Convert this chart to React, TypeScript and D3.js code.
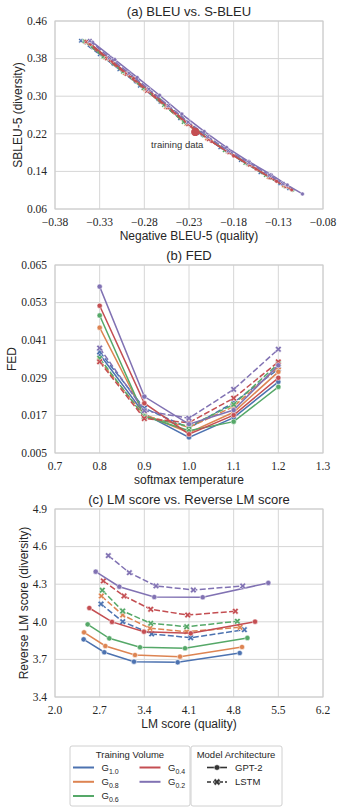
import React from 'react';
import * as d3 from 'd3';

const GROUP_SUBS = ['1.0', '0.8', '0.6', '0.4', '0.2'];
const PALETTE = ['#4c72b0', '#dd8452', '#55a868', '#c44e52', '#8172b3'];
const ARCHS = ['GPT-2', 'LSTM'];

// ---------- (a) BLEU vs S-BLEU ----------
const aXTicks = [-0.38, -0.33, -0.28, -0.23, -0.18, -0.13, -0.08];
const aYTicks = [0.06, 0.14, 0.22, 0.3, 0.38, 0.46];
const aGptX = [
  [-0.340, -0.315, -0.290, -0.265, -0.240, -0.215, -0.190, -0.165, -0.140, -0.118],
  [-0.338, -0.312, -0.287, -0.262, -0.237, -0.212, -0.188, -0.163, -0.138, -0.116],
  [-0.339, -0.314, -0.289, -0.263, -0.238, -0.213, -0.189, -0.164, -0.139, -0.114],
  [-0.340, -0.316, -0.292, -0.268, -0.245, -0.228, -0.205, -0.180, -0.155, -0.132, -0.115],
  [-0.338, -0.313, -0.288, -0.263, -0.238, -0.213, -0.188, -0.163, -0.138, -0.120, -0.103],
];
const aGptY = [
  [0.406, 0.368, 0.331, 0.293, 0.253, 0.217, 0.186, 0.157, 0.128, 0.104],
  [0.405, 0.366, 0.329, 0.291, 0.251, 0.215, 0.184, 0.155, 0.126, 0.103],
  [0.408, 0.370, 0.333, 0.293, 0.254, 0.217, 0.185, 0.155, 0.126, 0.100],
  [0.411, 0.374, 0.338, 0.301, 0.264, 0.237, 0.204, 0.173, 0.145, 0.119, 0.101],
  [0.415, 0.378, 0.340, 0.302, 0.262, 0.225, 0.191, 0.161, 0.133, 0.111, 0.092],
];
const aLstmX = [
  [-0.351, -0.330, -0.308, -0.285, -0.262, -0.240, -0.218, -0.195, -0.172, -0.150, -0.128, -0.118],
  [-0.346, -0.324, -0.302, -0.279, -0.256, -0.233, -0.210, -0.187, -0.164, -0.141, -0.124],
  [-0.347, -0.326, -0.304, -0.281, -0.258, -0.236, -0.213, -0.190, -0.167, -0.144, -0.122],
  [-0.345, -0.322, -0.300, -0.277, -0.254, -0.231, -0.208, -0.185, -0.162, -0.139, -0.121],
  [-0.341, -0.319, -0.297, -0.275, -0.253, -0.231, -0.209, -0.186, -0.163, -0.140, -0.125],
];
const aLstmY = [
  [0.418, 0.389, 0.357, 0.322, 0.288, 0.253, 0.222, 0.191, 0.164, 0.138, 0.114, 0.104],
  [0.415, 0.382, 0.349, 0.314, 0.277, 0.241, 0.210, 0.182, 0.155, 0.128, 0.110],
  [0.417, 0.384, 0.352, 0.317, 0.281, 0.245, 0.216, 0.185, 0.158, 0.132, 0.108],
  [0.416, 0.380, 0.347, 0.311, 0.276, 0.240, 0.208, 0.180, 0.154, 0.127, 0.108],
  [0.418, 0.382, 0.349, 0.315, 0.280, 0.245, 0.214, 0.184, 0.159, 0.132, 0.114],
];
const trainingPoint: [number, number] = [-0.223, 0.224];
const trainingLabel = 'training data';

// ---------- (b) FED ----------
const temps = [0.8, 0.9, 1.0, 1.1, 1.2];
const bXTicks = [0.7, 0.8, 0.9, 1.0, 1.1, 1.2, 1.3];
const bYTicks = [0.005, 0.017, 0.029, 0.041, 0.053, 0.065];
const fedGpt = [
  [0.0365, 0.0175, 0.0100, 0.0163, 0.0277],
  [0.0450, 0.0172, 0.0115, 0.0180, 0.0309],
  [0.0489, 0.0168, 0.0121, 0.0150, 0.0261],
  [0.0520, 0.0209, 0.0110, 0.0171, 0.0290],
  [0.0581, 0.0230, 0.0142, 0.0187, 0.0330],
];
const fedLstm = [
  [0.0373, 0.0193, 0.0130, 0.0211, 0.0318],
  [0.0345, 0.0170, 0.0132, 0.0198, 0.0325],
  [0.0352, 0.0165, 0.0135, 0.0205, 0.0335],
  [0.0341, 0.0160, 0.0147, 0.0225, 0.0341],
  [0.0385, 0.0185, 0.0161, 0.0253, 0.0381],
];

// ---------- (c) LM vs Reverse LM ----------
const cXTicks = [2.0, 2.7, 3.4, 4.1, 4.8, 5.5, 6.2];
const cYTicks = [3.4, 3.7, 4.0, 4.3, 4.6, 4.9];
const lmGptX = [
  [2.449, 2.773, 3.238, 3.923, 4.895],
  [2.455, 2.789, 3.254, 3.959, 4.931],
  [2.512, 2.851, 3.332, 4.038, 5.015],
  [2.538, 2.893, 3.395, 4.127, 5.135],
  [2.638, 3.008, 3.556, 4.315, 5.343],
];
const lmGptY = [
  [3.860, 3.757, 3.682, 3.677, 3.751],
  [3.916, 3.807, 3.735, 3.722, 3.799],
  [3.980, 3.868, 3.797, 3.789, 3.871],
  [4.110, 3.999, 3.921, 3.908, 4.001],
  [4.400, 4.280, 4.198, 4.196, 4.310],
];
const lmLstmX = [
  [2.721, 3.061, 3.515, 4.127, 4.967],
  [2.726, 3.061, 3.489, 4.064, 4.900],
  [2.741, 3.061, 3.500, 4.064, 4.858],
  [2.757, 3.082, 3.500, 4.080, 4.826],
  [2.836, 3.165, 3.583, 4.168, 4.942],
];
const lmLstmY = [
  [4.142, 4.001, 3.903, 3.873, 3.937],
  [4.206, 4.054, 3.948, 3.921, 3.956],
  [4.252, 4.086, 3.988, 3.961, 4.004],
  [4.326, 4.206, 4.100, 4.054, 4.084],
  [4.528, 4.392, 4.286, 4.254, 4.286],
];

// ---------- layout ----------
const W = 343;
const H = 812;
const L = 55;
const R = 323;
const SANS = "'Liberation Sans', Arial, sans-serif";
const SERIF = "'Liberation Serif', 'Times New Roman', serif";
const TXT = '#262626';
const GRID = '#d6d6d6';
const DASH = '6,2.4';

type Series = { pts: [number, number][]; color: string; dashed: boolean };

function xMarkerPath(cx: number, cy: number, a: number, w: number) {
  const pts = [[-w, -a], [w, -a], [w, -w], [a, -w], [a, w], [w, w], [w, a], [-w, a], [-w, w], [-a, w], [-a, -w], [-w, -w]];
  const c = Math.SQRT1_2;
  return 'M' + pts.map(([x, y]) => `${(x - y) * c + cx},${(x + y) * c + cy}`).join('L') + 'Z';
}

function Marker({ cx, cy, color, dashed, r }: { cx: number; cy: number; color: string; dashed: boolean; r: number }) {
  if (dashed) {
    return <path d={xMarkerPath(cx, cy, r * 1.3, r * 0.42)} fill={color} stroke="#fff" strokeWidth={0.5} />;
  }
  return <circle cx={cx} cy={cy} r={r} fill={color} stroke="#fff" strokeWidth={0.5} />;
}

function buildSeries(gx: number[][] | null, gy: number[][], lx: number[][] | null, ly: number[][], shared?: number[]): Series[] {
  const out: Series[] = [];
  for (let g = 0; g < 5; g++) {
    const xs1 = gx ? gx[g] : (shared as number[]);
    const xs2 = lx ? lx[g] : (shared as number[]);
    out.push({ pts: xs1.map((v, i) => [v, gy[g][i]]), color: PALETTE[g], dashed: false });
    out.push({ pts: xs2.map((v, i) => [v, ly[g][i]]), color: PALETTE[g], dashed: true });
  }
  return out;
}

type PanelProps = {
  top: number;
  bottom: number;
  xTicks: number[];
  yTicks: number[];
  xFmt: (v: number) => string;
  yFmt: (v: number) => string;
  title: string;
  xLabel: string;
  yLabel: string;
  yLabelX: number;
  series: Series[];
  mr: number;
  lw: number;
  children?: (x: d3.ScaleLinear<number, number>, y: d3.ScaleLinear<number, number>) => React.ReactNode;
};

function Panel(p: PanelProps) {
  const x = d3.scaleLinear().domain([p.xTicks[0], p.xTicks[p.xTicks.length - 1]]).range([L, R]);
  const y = d3.scaleLinear().domain([p.yTicks[0], p.yTicks[p.yTicks.length - 1]]).range([p.bottom, p.top]);
  const line = d3.line<[number, number]>().x((d) => x(d[0])).y((d) => y(d[1]));
  return (
    <g>
      {p.xTicks.map((t, i) => (
        <line key={'gx' + i} x1={x(t)} x2={x(t)} y1={p.top} y2={p.bottom} stroke={GRID} strokeWidth={1} />
      ))}
      {p.yTicks.map((t, i) => (
        <line key={'gy' + i} x1={L} x2={R} y1={y(t)} y2={y(t)} stroke={GRID} strokeWidth={1} />
      ))}
      <rect x={L} y={p.top} width={R - L} height={p.bottom - p.top} fill="none" stroke="#cccccc" strokeWidth={1} />
      {p.series.map((s, i) => (
        <g key={'s' + i}>
          <path d={line(s.pts) || ''} fill="none" stroke={s.color} strokeWidth={p.lw} strokeDasharray={s.dashed ? DASH : undefined} />
          {s.pts.map((d, j) => (
            <Marker key={j} cx={x(d[0])} cy={y(d[1])} color={s.color} dashed={s.dashed} r={p.mr} />
          ))}
        </g>
      ))}
      {p.children ? p.children(x, y) : null}
      {p.xTicks.map((t, i) => (
        <text key={'tx' + i} x={x(t)} y={p.bottom + 17} textAnchor="middle" fontFamily={SERIF} fontSize={11.5} fill={TXT}>
          {p.xFmt(t)}
        </text>
      ))}
      {p.yTicks.map((t, i) => (
        <text key={'ty' + i} x={47} y={y(t) + 3.8} textAnchor="end" fontFamily={SERIF} fontSize={11.5} fill={TXT}>
          {p.yFmt(t)}
        </text>
      ))}
      <text x={(L + R) / 2} y={p.top - 5} textAnchor="middle" fontFamily={SANS} fontSize={13} fill={TXT}>
        {p.title}
      </text>
      <text x={(L + R) / 2} y={p.bottom + 31} textAnchor="middle" fontFamily={SANS} fontSize={12} fill={TXT}>
        {p.xLabel}
      </text>
      <text
        transform={`translate(${p.yLabelX},${(p.top + p.bottom) / 2}) rotate(-90)`}
        dy="0.35em"
        textAnchor="middle"
        fontFamily={SANS}
        fontSize={12}
        fill={TXT}
      >
        {p.yLabel}
      </text>
    </g>
  );
}

function Legend() {
  const fs = 9.5;
  const col1 = [
    { g: 0, x: 73, y: 767.5 },
    { g: 1, x: 73, y: 781.8 },
    { g: 2, x: 73, y: 796 },
    { g: 3, x: 139.5, y: 767.5 },
    { g: 4, x: 139.5, y: 781.8 },
  ];
  return (
    <g fontFamily={SANS} fill={TXT}>
      <rect x={70} y={746} width={120} height={60} rx={2} fill="#fff" stroke="#d0d0d0" strokeWidth={1} />
      <rect x={191} y={746} width={91} height={60} rx={2} fill="#fff" stroke="#d0d0d0" strokeWidth={1} />
      <text x={130} y={757.5} textAnchor="middle" fontSize={fs}>Training Volume</text>
      {col1.map((e) => (
        <g key={e.g}>
          <line x1={e.x} x2={e.x + 21} y1={e.y} y2={e.y} stroke={PALETTE[e.g]} strokeWidth={2} />
          <text x={e.x + 28.5} y={e.y + 3.4} fontSize={fs}>
            G<tspan fontSize={7} dy={2.6}>{GROUP_SUBS[e.g]}</tspan>
          </text>
        </g>
      ))}
      <text x={236} y={758} textAnchor="middle" fontSize={fs}>Model Architecture</text>
      {ARCHS.map((a, i) => {
        const yy = 767.5 + i * 14.5;
        return (
          <g key={a}>
            <line x1={207} x2={227} y1={yy} y2={yy} stroke="#333" strokeWidth={1.6} strokeDasharray={i === 1 ? '4,2' : undefined} />
            <Marker cx={217} cy={yy} color="#333" dashed={i === 1} r={2.8} />
            <text x={235} y={yy + 3.4} fontSize={fs}>{a}</text>
          </g>
        );
      })}
    </g>
  );
}

export default function App() {
  const f2 = d3.format('.2f');
  const f3 = d3.format('.3f');
  const f1 = d3.format('.1f');
  const seriesA = buildSeries(aGptX, aGptY, aLstmX, aLstmY);
  const seriesB = buildSeries(null, fedGpt, null, fedLstm, temps);
  const seriesC = buildSeries(lmGptX, lmGptY, lmLstmX, lmLstmY);
  return (
    <svg width={W} height={H} style={{ position: 'absolute', left: 0, top: 0, background: '#fff' }}>
      <rect width={W} height={H} fill="#fff" />
      <Panel
        top={21}
        bottom={209}
        xTicks={aXTicks}
        yTicks={aYTicks}
        xFmt={f2}
        yFmt={f2}
        title="(a) BLEU vs. S-BLEU"
        xLabel="Negative BLEU-5 (quality)"
        yLabel="SBLEU-5 (diversity)"
        yLabelX={17.5}
        series={seriesA}
        mr={2}
        lw={1.5}
      >
        {(x, y) => (
          <g>
            <circle cx={x(trainingPoint[0])} cy={y(trainingPoint[1])} r={4.2} fill={PALETTE[3]} />
            <text x={x(trainingPoint[0]) - 18} y={y(trainingPoint[1]) + 16} textAnchor="middle" fontFamily={SANS} fontSize={9.5} fill="#333">
              {trainingLabel}
            </text>
          </g>
        )}
      </Panel>
      <Panel
        top={265}
        bottom={453}
        xTicks={bXTicks}
        yTicks={bYTicks}
        xFmt={f1}
        yFmt={f3}
        title="(b) FED"
        xLabel="softmax temperature"
        yLabel="FED"
        yLabelX={12}
        series={seriesB}
        mr={2.6}
        lw={1.5}
      />
      <Panel
        top={509}
        bottom={697}
        xTicks={cXTicks}
        yTicks={cYTicks}
        xFmt={f1}
        yFmt={f1}
        title="(c) LM score vs. Reverse LM score"
        xLabel="LM score (quality)"
        yLabel="Reverse LM score (diversity)"
        yLabelX={23.5}
        series={seriesC}
        mr={2.6}
        lw={1.5}
      />
      <Legend />
    </svg>
  );
}
